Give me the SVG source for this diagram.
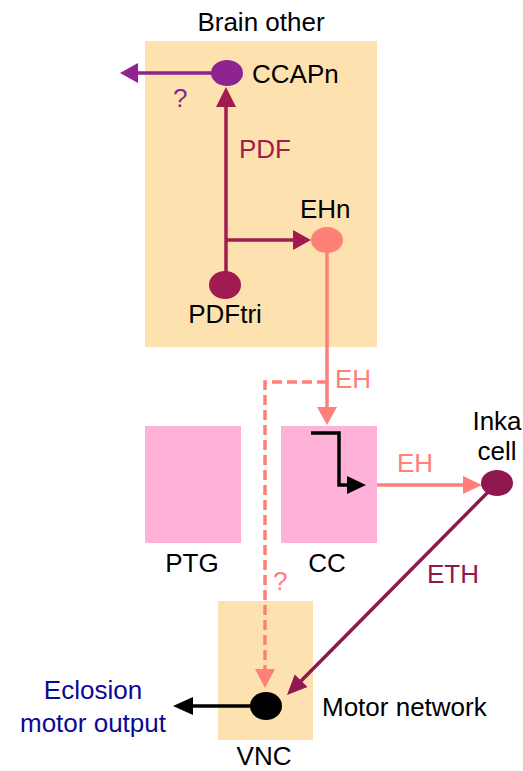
<svg xmlns="http://www.w3.org/2000/svg" width="523" height="771" viewBox="0 0 523 771">
<style>
text{font-family:"Liberation Sans",Arial,sans-serif;font-size:26px;fill:#000}
.mid{text-anchor:middle}
.region{fill:#FDE2AF}
.gland{fill:#FFB2D8}
.ln{fill:none;stroke-width:3.5}
.purple{stroke:#8E2492}
.crim{stroke:#A11A50}
.salmon{stroke:#FF8078}
.inka{stroke:#8F1851}
.blk{stroke:#000}
</style>
<rect width="523" height="771" fill="#fff"/>
<g id="brain-region"><rect class="region" x="145" y="41" width="232" height="306"/><text class="mid" x="261" y="31">Brain other</text></g>
<g id="PTG"><rect class="gland" x="145" y="426" width="96" height="117"/><text class="mid" x="192" y="572">PTG</text></g>
<g id="CC"><rect class="gland" x="281" y="426" width="96" height="117"/><text class="mid" x="327" y="572">CC</text></g>
<g id="VNC"><rect class="region" x="218" y="601" width="95" height="139"/><text class="mid" x="264" y="765">VNC</text></g>
<g id="connectors">
<line class="ln purple" x1="215" y1="73" x2="137" y2="73"/>
<polygon points="120,73 138,63 138,83" fill="#8E2492"/>
<text x="173" y="107" style="fill:#8E2492">?</text>
<line class="ln crim" x1="226" y1="285" x2="226" y2="106"/>
<polygon points="226,87 216,107 236,107" fill="#A11A50"/>
<line class="ln crim" x1="226" y1="240" x2="294" y2="240"/>
<polygon points="311,240 293,230 293,250" fill="#A11A50"/>
<text x="239" y="158" style="fill:#A11A50">PDF</text>
<line class="ln salmon" x1="327" y1="240" x2="327" y2="408"/>
<polygon points="327,425 317,407 337,407" fill="#FF8078"/>
<text x="335" y="388" style="fill:#FF8078">EH</text>
<path class="ln salmon" d="M327,382 H265 V670" stroke-dasharray="10,5" stroke-width="3"/>
<polygon points="265,688 255,669 275,669" fill="#FF8078"/>
<text x="273" y="590" style="fill:#FF8078">?</text>
<path class="ln blk" d="M311,433 H339 V485 H348"/>
<polygon points="366,485 347,476 347,494" fill="#000"/>
<line class="ln salmon" x1="377" y1="485" x2="464" y2="485"/>
<polygon points="482,485 463,476 463,494" fill="#FF8078"/>
<text x="397" y="472" style="fill:#FF8078">EH</text>
<line class="ln inka" x1="497" y1="483" x2="301" y2="681"/>
<polygon points="287,695 307.5,687.1 294.7,674.5" fill="#8F1851"/>
<text x="427" y="583" style="fill:#8F1851">ETH</text>
<line class="ln blk" x1="266" y1="706" x2="192" y2="706"/>
<polygon points="173,706 193,697 193,715" fill="#000"/>
</g>
<g id="CCAPn"><ellipse cx="227" cy="73" rx="16" ry="13" fill="#8E2492"/><text x="252" y="83">CCAPn</text></g>
<g id="EHn"><ellipse cx="327" cy="240" rx="16" ry="13" fill="#FF8078"/><text x="300" y="218">EHn</text></g>
<g id="PDFtri"><ellipse cx="225" cy="285" rx="16" ry="14" fill="#A11A50"/><text class="mid" x="225" y="323">PDFtri</text></g>
<g id="Inka"><ellipse cx="497" cy="483" rx="16" ry="13" fill="#8F1851"/><text class="mid" x="497" y="430">Inka</text><text class="mid" x="497" y="460">cell</text></g>
<g id="motor-network"><ellipse cx="266" cy="706" rx="16" ry="14" fill="#000"/><text x="322" y="716">Motor network</text></g>
<g id="output"><text class="mid" x="93" y="699" style="fill:#0A0A96">Eclosion</text><text class="mid" x="93" y="732" style="fill:#0A0A96">motor output</text></g>
</svg>
